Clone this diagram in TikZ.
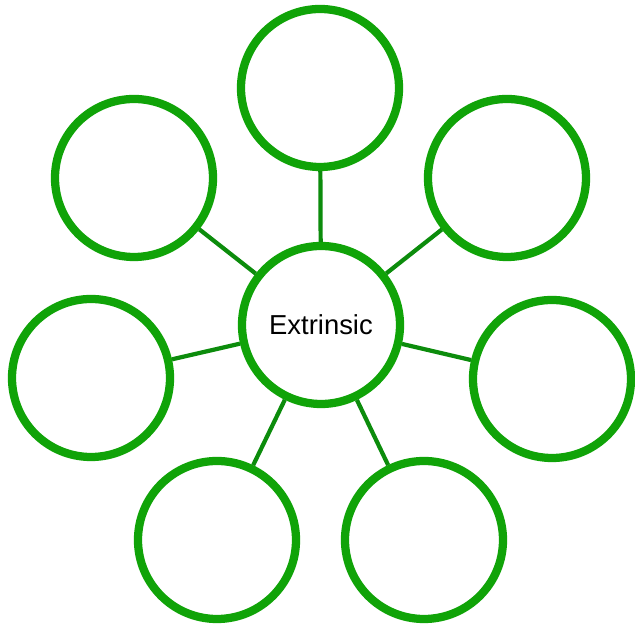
\documentclass[tikz,border=0pt]{standalone}
\usepackage{fontspec}
\setmainfont{Liberation Sans}
\usetikzlibrary{shadows}
\definecolor{ringgreen}{RGB}{16,163,8}
\definecolor{linkgreen}{RGB}{12,140,12}

\begin{document}
\begin{tikzpicture}[
  font=\fontsize{15.6}{18}\selectfont,
  ring/.style={circle,draw=ringgreen,fill=white,line width=4.7pt,
    minimum size=3.16cm,inner sep=0pt,
    drop shadow={shadow xshift=0cm,shadow yshift=-0.05cm,opacity=0.18}},
  link/.style={draw=linkgreen,line width=2.4pt}
]
  \useasboundingbox (0,0) rectangle (12.7,12.54);

  \node[ring] (hub) at (6.42,6.04) {Extrinsic};

  \node[ring] (top) at (6.40,10.78) {};
  \node[ring] (upleft) at (2.68,8.98) {};
  \node[ring] (upright) at (10.14,8.98) {};
  \node[ring] (left) at (1.82,4.98) {};
  \node[ring] (right) at (11.04,4.96) {};
  \node[ring] (lowleft) at (4.34,1.74) {};
  \node[ring] (lowright) at (8.48,1.74) {};

  \draw[link] (hub) -- (top);
  \draw[link] (hub) -- (upleft);
  \draw[link] (hub) -- (upright);
  \draw[link] (hub) -- (left);
  \draw[link] (hub) -- (right);
  \draw[link] (hub) -- (lowleft);
  \draw[link] (hub) -- (lowright);
\end{tikzpicture}
\end{document}
